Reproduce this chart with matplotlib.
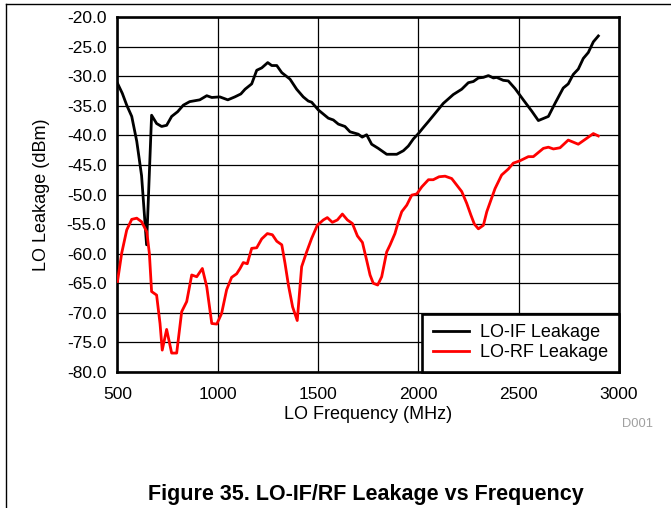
import matplotlib
matplotlib.use("Agg")
import matplotlib.pyplot as plt
from matplotlib.lines import Line2D
import numpy as np

plt.rcParams['font.family'] = ['Liberation Sans', 'DejaVu Sans']

# LO-IF leakage (dBm) vs LO frequency (MHz)
if_freq = [500, 524, 546, 571, 596, 620, 645, 670, 695, 720, 745, 770, 800, 828,
           860, 910, 945, 970, 1010, 1050, 1085, 1115, 1136, 1169, 1194, 1219,
           1249, 1269, 1294, 1319, 1360, 1393, 1426, 1451, 1468, 1501, 1551,
           1576, 1601, 1634, 1659, 1700, 1720, 1742, 1767, 1800, 1842, 1892,
           1925, 1950, 1975, 2000, 2024, 2049, 2083, 2124, 2174, 2216, 2249,
           2274, 2299, 2324, 2349, 2374, 2390, 2423, 2448, 2482, 2523, 2565,
           2598, 2648, 2681, 2722, 2747, 2772, 2797, 2822, 2847, 2872, 2897]
if_leak = [-31.2, -32.9, -34.9, -36.8, -41.0, -46.8, -58.5, -36.6, -38.0, -38.5,
           -38.3, -36.8, -36.0, -34.9, -34.3, -34.0, -33.3, -33.6, -33.5, -34.0,
           -33.5, -33.0, -32.2, -31.3, -29.0, -28.6, -27.7, -28.2, -28.2, -29.4,
           -30.5, -32.2, -33.5, -34.2, -34.4, -35.7, -37.1, -37.4, -38.1, -38.5,
           -39.4, -39.8, -40.3, -39.9, -41.5, -42.2, -43.2, -43.2, -42.6, -41.8,
           -40.6, -39.7, -38.7, -37.7, -36.3, -34.6, -33.1, -32.2, -31.1, -30.9,
           -30.3, -30.2, -29.9, -30.3, -30.2, -30.7, -30.8, -32.1, -34.0, -35.9,
           -37.5, -36.8, -34.6, -32.0, -31.3, -29.7, -28.8, -27.0, -26.0, -24.2,
           -23.2]

# LO-RF leakage (dBm) vs LO frequency (MHz)
rf_freq = [500, 521, 546, 571, 596, 620, 646, 659, 670, 695, 712, 723, 745, 770,
           795, 820, 845, 870, 895, 923, 945, 970, 995, 1019, 1044, 1069, 1094,
           1111, 1127, 1147, 1169, 1194, 1219, 1247, 1272, 1294, 1319, 1335,
           1352, 1373, 1396, 1418, 1443, 1468, 1496, 1526, 1546, 1571, 1596,
           1621, 1646, 1671, 1696, 1721, 1742, 1759, 1775, 1797, 1817, 1842,
           1859, 1883, 1900, 1917, 1942, 1967, 1992, 2017, 2050, 2074, 2103,
           2133, 2166, 2191, 2216, 2241, 2262, 2279, 2299, 2324, 2341, 2362,
           2382, 2415, 2448, 2473, 2506, 2548, 2573, 2623, 2648, 2673, 2706,
           2747, 2797, 2839, 2872, 2897]
rf_leak = [-64.7, -59.9, -56.0, -54.2, -54.0, -54.6, -56.3, -60.0, -66.4, -67.0,
           -71.8, -76.3, -72.8, -76.8, -76.8, -69.8, -68.1, -63.6, -63.9, -62.5,
           -65.6, -71.8, -71.9, -70.1, -66.1, -64.0, -63.4, -62.5, -61.5, -61.7,
           -59.1, -59.0, -57.5, -56.6, -56.8, -57.9, -58.5, -61.6, -65.3, -69.0,
           -71.3, -62.2, -59.7, -57.4, -55.2, -54.3, -53.9, -54.7, -54.3, -53.3,
           -54.3, -54.9, -57.0, -58.1, -61.1, -63.6, -65.0, -65.3, -63.9, -59.7,
           -58.5, -56.6, -54.6, -52.9, -51.8, -50.1, -49.9, -48.7, -47.5, -47.5,
           -47.0, -46.9, -47.3, -48.4, -49.5, -51.5, -53.5, -55.0, -55.8, -55.2,
           -52.9, -50.9, -49.0, -46.7, -45.7, -44.7, -44.3, -43.6, -43.6, -42.2,
           -42.0, -42.3, -42.1, -40.8, -41.5, -40.5, -39.7, -40.1]

x_ticks = [500, 1000, 1500, 2000, 2500, 3000]
y_ticks = np.arange(-80, -15, 5)

fig = plt.figure(figsize=(6.71, 5.08), dpi=100)
ax = fig.add_axes([0.1751, 0.2677, 0.7474, 0.6988])

ax.plot(if_freq, if_leak, color='black', lw=2.0, label='LO-IF Leakage', zorder=3)
ax.plot(rf_freq, rf_leak, color='#ff0000', lw=2.0, label='LO-RF Leakage', zorder=3)

ax.set_xlim(500, 3000)
ax.set_ylim(-80, -20)
ax.set_xticks(x_ticks)
ax.set_yticks(y_ticks)
ax.set_yticklabels([f"{v:.1f}" for v in y_ticks])
ax.tick_params(length=0, labelsize=12.5)
ax.tick_params(axis='x', pad=11)
ax.tick_params(axis='y', pad=8)
ax.grid(True, color='black', lw=0.9)
ax.set_axisbelow(True)
for s in ax.spines.values():
    s.set_linewidth(1.9)

ax.set_xlabel("LO Frequency (MHz)", fontsize=13, labelpad=3)
ax.set_ylabel("LO Leakage (dBm)", fontsize=13, labelpad=12)

leg = ax.legend(loc='lower right', fontsize=13, borderaxespad=0, fancybox=False,
                framealpha=1, edgecolor='black', handlelength=2.0,
                handletextpad=0.6, labelspacing=0.15, borderpad=0.6)
leg.get_frame().set_linewidth(1.9)

fig.text(0.973, 0.165, "D001", color='#a0a0a0', fontsize=9.3, ha='right', va='center')
fig.text(0.545, 0.027, "Figure 35. LO-IF/RF Leakage vs Frequency",
         fontsize=15.5, fontweight='bold', ha='center', va='center')

# page frame edges
fig.add_artist(Line2D([0.009, 1.0], [0.992, 0.992], color='black', lw=1.0))
fig.add_artist(Line2D([0.009, 0.009], [0.0, 0.992], color='black', lw=1.0))

fig.savefig("out.png", dpi=100)
